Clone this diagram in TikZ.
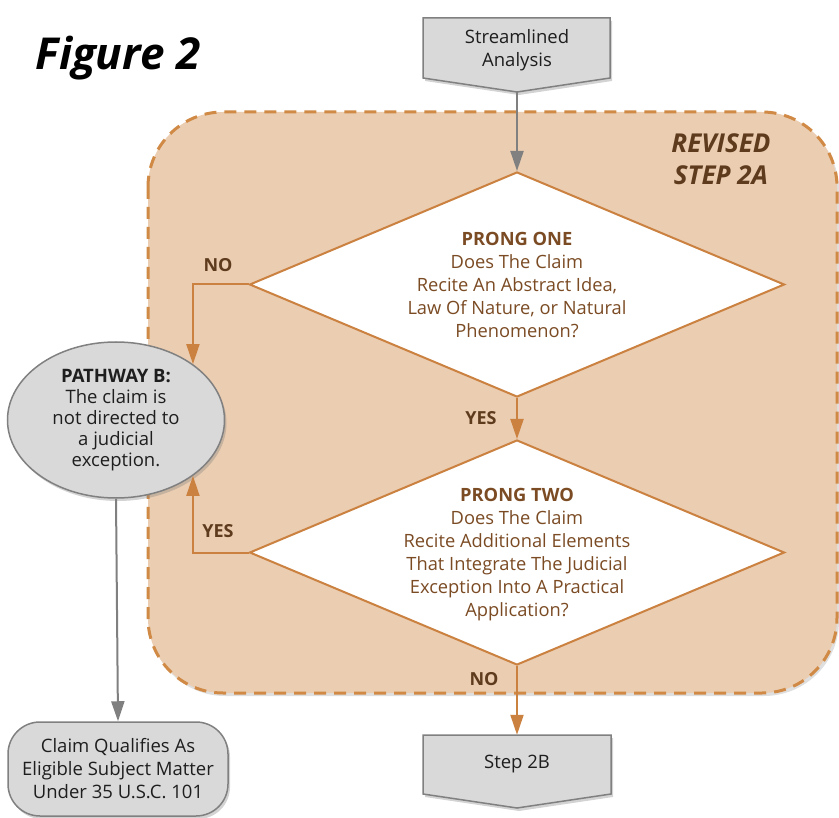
\documentclass[tikz,border=0pt]{standalone}
\usepackage{fontspec}
\setmainfont{Open Sans}
\usetikzlibrary{shapes.geometric,arrows.meta,shadows}

\definecolor{tanfill}{HTML}{EBCDB1}
\definecolor{tanline}{HTML}{D08A45}
\definecolor{prongline}{HTML}{CB8140}
\definecolor{prongtext}{HTML}{7B4B24}
\definecolor{labeltext}{HTML}{5E3B1D}
\definecolor{boxfill}{HTML}{D9D9D9}
\definecolor{boxline}{HTML}{808080}
\definecolor{boxtext}{HTML}{1E1E1E}

\tikzset{
  graybox/.style={draw=boxline, fill=boxfill, line width=1.5pt,
    drop shadow={opacity=0.35, shadow xshift=2pt, shadow yshift=-3pt}},
  prong/.style={diamond, draw=prongline, fill=white, line width=2pt,
    shape aspect=2.38, minimum width=535pt, minimum height=225pt, inner sep=0pt},
  prongtxt/.style={align=center, text=prongtext, font=\fontsize{18.3}{23}\selectfont},
  answer/.style={text=labeltext, font=\bfseries\fontsize{18}{20}\selectfont},
  boxtxt/.style={text=boxtext, align=center, font=\fontsize{18.5}{23}\selectfont},
  grayarrow/.style={draw=boxline, line width=2pt, -{Triangle[width=13pt,length=20pt]}},
  brownarrow/.style={draw=prongline, line width=2pt, -{Triangle[width=13pt,length=20pt]}},
}

\begin{document}
\begin{tikzpicture}[x=1pt,y=-1pt]
  \useasboundingbox (0,0) rectangle (839,818);

  % revised step 2A region
  \draw[tanline, fill=tanfill, line width=3pt, dash pattern=on 12pt off 8pt,
    rounded corners=75pt, drop shadow={opacity=0.25, shadow xshift=2pt, shadow yshift=-3pt}]
    (148,112) rectangle (837,693);

  \node[font=\bfseries\itshape\fontsize{44}{48}\selectfont] (fig) at (118,58) {Figure 2};
  \node[text=labeltext, align=center, font=\bfseries\itshape\fontsize{26}{32}\selectfont]
    (step2a) at (721,159) {REVISED\\STEP 2A};

  % top and bottom boxes
  \draw[graybox] (423,18) -- (610,18) -- (610,78) -- (517,92) coordinate (streamtip)
    -- (423,78) -- cycle;
  \node[boxtxt] (stream) at (517,50) {Streamlined\\Analysis};
  \draw[graybox] (423,735) -- (611,735) -- (611,794) -- (517,808) -- (423,794) -- cycle;
  \node[boxtxt, minimum width=188pt, minimum height=59pt, inner sep=0pt] (step) at (517,764.5) {Step 2B};

  % prongs
  \node[prong] (one) at (517,284.5) {};
  \node[prongtxt] (onetext) at (517,285) {\textbf{PRONG ONE}\\Does The Claim\\Recite An Abstract Idea,\\Law Of Nature, or Natural\\Phenomenon?};
  \node[prong] (two) at (517,552.5) {};
  \node[prongtxt] (twotext) at (517,555) {\textbf{PRONG TWO}\\Does The Claim\\Recite Additional Elements\\That Integrate The Judicial\\Exception Into A Practical\\Application?};

  % pathway B and result
  \node[ellipse, graybox, boxtxt, minimum width=217pt, minimum height=156pt, inner sep=0pt,
    font=\fontsize{18.5}{21}\selectfont] (pathB) at (116,420)
    {\textbf{PATHWAY B:}\\The claim is\\not directed to\\a judicial\\exception.};
  \node[graybox, boxtxt, rounded corners=32pt, minimum width=220pt, minimum height=94pt]
    (qualify) at (118,769) {Claim Qualifies As\\Eligible Subject Matter\\Under 35 U.S.C. 101};

  % connectors
  \draw[grayarrow] (streamtip) -- (one.north);
  \draw[brownarrow] (one.south) -- (two.north);
  \draw[brownarrow] (two.south) -- (step.north);
  \draw[brownarrow] (one.west) -| (pathB.36);
  \draw[brownarrow] (two.west) -| (pathB.-36);
  \draw[grayarrow] (pathB.south) -- (qualify.north);

  \node[answer] (no1) at (218,265) {NO};
  \node[answer] (yes1) at (481,418) {YES};
  \node[answer] (yes2) at (218,531) {YES};
  \node[answer] (no2) at (484,679) {NO};
\end{tikzpicture}
\end{document}
